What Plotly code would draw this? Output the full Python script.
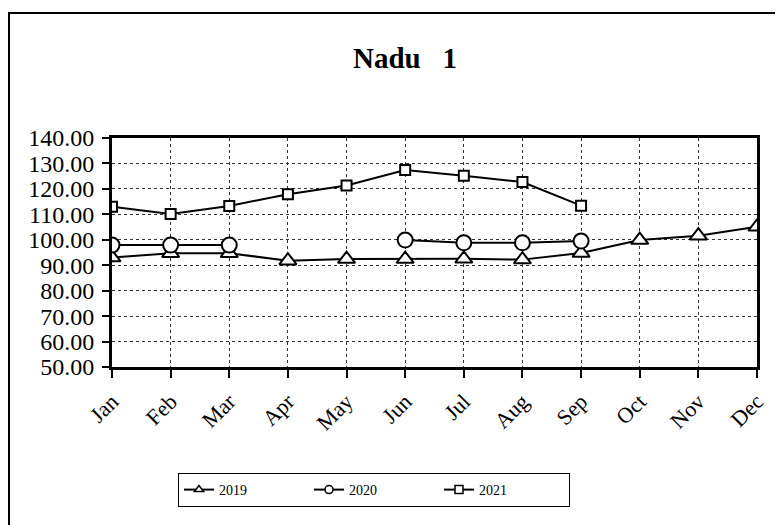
import plotly.graph_objects as go

months = ["Jan", "Feb", "Mar", "Apr", "May", "Jun", "Jul", "Aug", "Sep", "Oct", "Nov", "Dec"]
s2019 = [93.0, 94.7, 94.7, 91.8, 92.4, 92.4, 92.5, 92.2, 94.8, 99.9, 101.6, 105.1]
s2020 = [97.9, 97.9, 97.9, None, None, 99.9, 98.8, 98.8, 99.5, None, None, None]
s2021 = [113.0, 110.1, 113.3, 117.9, 121.3, 127.4, 125.2, 122.7, 113.4, None, None, None]
y_ticks = [50, 60, 70, 80, 90, 100, 110, 120, 130, 140]

# page has an 8px body margin; size the figure so the visible window matches
OFF = 8
W, H = 783 - OFF, 525 - OFF
L, T = 112 - OFF, 138 - OFF
R = W - (757 - OFF)
B = H - (367 - OFF)
pw, ph = W - L - R, H - T - B


def px(x):
    return (x - OFF - L) / pw


def py(y):
    return (H - B - (y - OFF)) / ph


FONT = "Liberation Serif"

fig = go.Figure()
series = [
    ("2019", s2019, "triangle-up", 15, 8),
    ("2020", s2020, "circle", 15, 8),
    ("2021", s2021, "square", 10, 8),
]
for name, vals, sym, size, lsize in series:
    fig.add_trace(go.Scatter(
        x=months, y=vals, name=name, mode="lines+markers", showlegend=False,
        line=dict(color="black", width=2),
        marker=dict(symbol=sym, size=size, color="white",
                    line=dict(color="black", width=2)),
    ))
for name, vals, sym, size, lsize in series:
    fig.add_trace(go.Scatter(
        x=[None], y=[None], name=name, mode="lines+markers", showlegend=True,
        line=dict(color="black", width=2),
        marker=dict(symbol=sym, size=lsize, color="white",
                    line=dict(color="black", width=1.5)),
    ))

fig.update_layout(
    width=W, height=H,
    margin=dict(l=L, r=R, t=T, b=B, pad=0, autoexpand=False),
    paper_bgcolor="white", plot_bgcolor="white",
    font=dict(family=FONT, color="black"),
    showlegend=True,
    legend=dict(
        orientation="h", x=px(178), y=py(473), xanchor="left", yanchor="top",
        bordercolor="black", borderwidth=1, bgcolor="white",
        font=dict(family=FONT, size=14, color="black"),
        entrywidth=85, entrywidthmode="pixels",
    ),
    xaxis=dict(
        type="category", range=[0, 11],
        showline=True, linecolor="black", linewidth=3, mirror=True,
        showgrid=True, gridcolor="#333333", gridwidth=1, griddash="dot",
        ticks="outside", ticklen=8, tickwidth=2, tickcolor="black",
        tickangle=-45, tickfont=dict(family=FONT, size=22, color="black"),
        ticklabelstandoff=2,
        zeroline=False,
    ),
    yaxis=dict(
        range=[50, 140], tickvals=y_ticks, tickformat=".2f",
        showline=True, linecolor="black", linewidth=3, mirror=True,
        showgrid=True, gridcolor="#333333", gridwidth=1, griddash="dot",
        ticks="outside", ticklen=7, tickwidth=2, tickcolor="black",
        tickfont=dict(family=FONT, size=24, color="black"),
        ticklabelstandoff=3,
        zeroline=False,
    ),
    annotations=[dict(
        text="<b>Nadu&nbsp;&nbsp;&nbsp;1</b>", xref="paper", yref="paper",
        x=px(405), y=py(58), xanchor="center", yanchor="middle",
        showarrow=False, font=dict(family=FONT, size=29, color="black"),
    )],
    shapes=[dict(
        type="rect", xref="paper", yref="paper",
        x0=px(9), x1=px(800), y0=py(540), y1=py(13),
        line=dict(color="black", width=2), layer="below",
    )],
)

fig.write_html("out.html")
